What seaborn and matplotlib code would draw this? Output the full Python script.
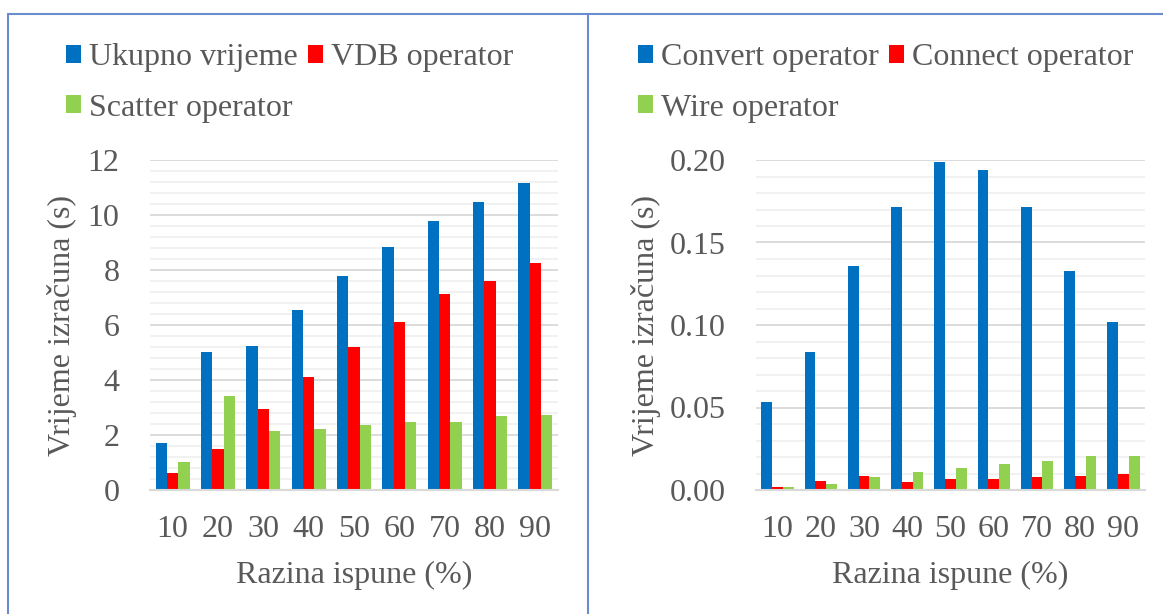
import numpy as np
import pandas as pd
import matplotlib
matplotlib.use("Agg")
import matplotlib.pyplot as plt
from matplotlib.lines import Line2D
from matplotlib.patches import Patch
from matplotlib.font_manager import FontProperties
from matplotlib.ticker import MultipleLocator, FormatStrFormatter
import seaborn as sns

# Fill levels (x axis categories)
levels = ["10", "20", "30", "40", "50", "60", "70", "80", "90"]

# Left panel: total time and per-operator times (s)
left_series = ["Ukupno vrijeme", "VDB operator", "Scatter operator"]
ukupno = [1.70, 5.02, 5.25, 6.53, 7.78, 8.84, 9.79, 10.47, 11.16]
vdb = [0.62, 1.49, 2.95, 4.10, 5.19, 6.11, 7.12, 7.60, 8.25]
scatter = [1.01, 3.42, 2.13, 2.23, 2.35, 2.48, 2.46, 2.68, 2.74]

# Right panel: remaining operator times (s)
right_series = ["Convert operator", "Connect operator", "Wire operator"]
convert = [0.0536, 0.0838, 0.1356, 0.1717, 0.1988, 0.1937, 0.1717, 0.1326, 0.1016]
connect = [0.0016, 0.0057, 0.0087, 0.0047, 0.0067, 0.0067, 0.0077, 0.0087, 0.0097]
wire = [0.0016, 0.0038, 0.0077, 0.0107, 0.0136, 0.0158, 0.0178, 0.0209, 0.0209]

colors = ["#0070C0", "#FF0000", "#92D050"]
text_color = "#595959"
FS = 23
FAMILY = "Liberation Serif"

sns.set_theme(style="white")
plt.rcParams["font.family"] = FAMILY
plt.rcParams["text.color"] = text_color
plt.rcParams["axes.labelcolor"] = text_color
plt.rcParams["xtick.color"] = text_color
plt.rcParams["ytick.color"] = text_color

fp = FontProperties(family=FAMILY, size=FS)

W, H = 1163, 614
fig = plt.figure(figsize=(W / 100, H / 100), dpi=100)


def px_axes(x0, y0, x1, y1):
    return fig.add_axes([x0 / W, 1 - y1 / H, (x1 - x0) / W, (y1 - y0) / H])


def long_frame(series, values):
    rows = []
    for name, vals in zip(series, values):
        for lvl, v in zip(levels, vals):
            rows.append({"level": lvl, "series": name, "value": v})
    return pd.DataFrame(rows)


def draw_panel(ax, series, values, ymax, major, minor, fmt, label_x):
    df = long_frame(series, values)
    sns.barplot(data=df, x="level", y="value", hue="series", order=levels,
                hue_order=series, palette=colors, saturation=1, width=0.75,
                linewidth=0, ax=ax, legend=False)
    ax.set_ylim(0, ymax)
    ax.set_xlim(-0.5, len(levels) - 0.5)
    ax.yaxis.set_major_locator(MultipleLocator(major))
    ax.yaxis.set_minor_locator(MultipleLocator(minor))
    ax.yaxis.set_major_formatter(FormatStrFormatter(fmt))
    ax.grid(True, which="major", axis="y", color="#d9d9d9", linewidth=1.3)
    ax.grid(True, which="minor", axis="y", color="#f0f0f0", linewidth=1.3)
    ax.set_axisbelow(True)
    for s in ("left", "right", "top"):
        ax.spines[s].set_visible(False)
    ax.spines["bottom"].set_color("#d9d9d9")
    ax.spines["bottom"].set_linewidth(1.5)
    ax.tick_params(axis="both", which="both", length=0, labelsize=FS)
    ax.tick_params(axis="y", pad=22)
    ax.tick_params(axis="x", pad=18)
    for lbl in ax.get_xticklabels() + ax.get_yticklabels():
        lbl.set_fontproperties(fp)
    ax.set_xlabel("Razina ispune (%)", fontproperties=fp, labelpad=12)
    ax.set_ylabel("Vrijeme izračuna (s)", fontproperties=fp)
    ax.yaxis.set_label_coords(label_x, 0.5)


ax1 = px_axes(150, 160, 558, 490)
draw_panel(ax1, left_series, [ukupno, vdb, scatter], 12, 2, 0.4, "%d", -0.178)

ax2 = px_axes(756, 160, 1145, 490)
draw_panel(ax2, right_series, [convert, connect, wire], 0.20, 0.05, 0.01, "%.2f", -0.245)

# Legends above each panel (column-major fill: first, third | second)
for series, x0 in ((left_series, 66), (right_series, 638)):
    handles = [Patch(facecolor=c, edgecolor="none") for c in colors]
    order = [0, 2, 1]
    fig.legend([handles[i] for i in order], [series[i] for i in order],
               loc="upper left", bbox_to_anchor=(x0 / W, 1 - 43 / H), ncol=2,
               frameon=False, prop=fp, handlelength=0.48, handleheight=0.5,
               handletextpad=0.25, columnspacing=0.3, labelspacing=0.68,
               borderpad=0, borderaxespad=0)

# Panel frame lines
frame_color = "#6A8CCF"
for xs, ys in (((8, W), (14, 14)), ((8, 8), (14, H)), ((588, 588), (14, H))):
    fig.add_artist(Line2D([x / W for x in xs], [1 - y / H for y in ys],
                          color=frame_color, linewidth=1.5))

fig.savefig("out.png", dpi=100)
